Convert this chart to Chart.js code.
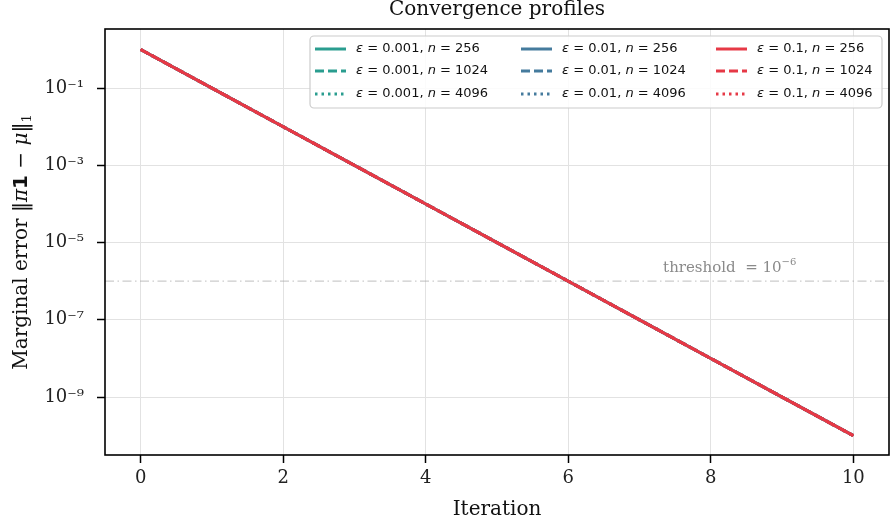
<!DOCTYPE html>
<html>
<head>
<meta charset="utf-8">
<script src="https://cdn.jsdelivr.net/npm/chart.js@4.4.1/dist/chart.umd.min.js"></script>
<style>
  html, body { margin: 0; padding: 0; background: #fff; }
  #wrap { width: 891px; height: 529px; }
</style>
</head>
<body>
<div id="wrap"><canvas id="chart" width="891" height="529"></canvas></div>
<script>
// Data
const iterations = [0, 1, 2, 3, 4, 5, 6, 7, 8, 9, 10];
const errEps0001 = [1, 1e-1, 1e-2, 1e-3, 1e-4, 1e-5, 1e-6, 1e-7, 1e-8, 1e-9, 1e-10];
const errEps001 = [1, 1e-1, 1e-2, 1e-3, 1e-4, 1e-5, 1e-6, 1e-7, 1e-8, 1e-9, 1e-10];
const errEps01 = [1, 1e-1, 1e-2, 1e-3, 1e-4, 1e-5, 1e-6, 1e-7, 1e-8, 1e-9, 1e-10];

const epsLabels = ['0.001', '0.01', '0.1'];
const nLabels = ['256', '1024', '4096'];
const seriesColors = ['#2a9d8f', '#457b9d', '#e63946'];
const dashStyles = [[], [9, 4], [2.5, 4]];

const xTickValues = [0, 2, 4, 6, 8, 10];
const yTickValues = [1e-9, 1e-7, 1e-5, 1e-3, 1e-1];
const yTickLabels = ['10\u207B\u2079', '10\u207B\u2077', '10\u207B\u2075', '10\u207B\u00B3', '10\u207B\u00B9'];
const thresholdValue = 1e-6;

const SERIF = '"DejaVu Serif", serif';
const SANS = '"DejaVu Sans", sans-serif';

// One series per (eps, n); red drawn last so it sits on top
const errByEps = [errEps0001, errEps001, errEps01];
const datasets = [];
epsLabels.forEach((eps, i) => {
    nLabels.forEach((n, j) => {
        datasets.push({
            label: `ε = ${eps}, n = ${n}`,
            data: iterations.map((x, k) => ({ x: x, y: errByEps[i][k] })),
            borderColor: seriesColors[i],
            borderWidth: 3,
            borderDash: dashStyles[j],
            pointRadius: 0,
            tension: 0,
            fill: false,
            order: 20 - (i * 3 + j)
        });
    });
});

// Threshold line spanning the whole x range
datasets.push({
    label: 'threshold',
    data: [{ x: -0.5, y: thresholdValue }, { x: 10.5, y: thresholdValue }],
    borderColor: 'rgba(160,160,160,0.55)',
    borderWidth: 1.3,
    borderDash: [9, 3.5, 1.5, 3.5],
    pointRadius: 0,
    order: 30
});

// Draw a run of text pieces with different fonts
function drawRuns(ctx, runs, x, y, align) {
    let total = 0;
    runs.forEach(r => { ctx.font = r.font; total += ctx.measureText(r.text).width; });
    let cx = align === 'center' ? x - total / 2 : (align === 'right' ? x - total : x);
    ctx.textAlign = 'left';
    runs.forEach(r => {
        ctx.font = r.font;
        ctx.fillText(r.text, cx, y + (r.dy || 0));
        cx += ctx.measureText(r.text).width;
    });
}

const decorPlugin = {
    id: 'decor',
    afterDraw(chart) {
        const ctx = chart.ctx;
        const a = chart.chartArea;
        const xs = chart.scales.x, ys = chart.scales.y;
        ctx.save();

        // frame
        ctx.strokeStyle = '#000';
        ctx.lineWidth = 1.6;
        ctx.strokeRect(a.left, a.top, a.right - a.left, a.bottom - a.top);

        // title
        ctx.fillStyle = '#111';
        ctx.textBaseline = 'alphabetic';
        ctx.font = `20px ${SERIF}`;
        ctx.textAlign = 'center';
        ctx.fillText('Convergence profiles', (a.left + a.right) / 2, 15);

        // x title
        ctx.fillText('Iteration', (a.left + a.right) / 2, 515);

        // y title (rotated)
        ctx.save();
        ctx.translate(27, (a.top + a.bottom) / 2);
        ctx.rotate(-Math.PI / 2);
        drawRuns(ctx, [
            { text: 'Marginal error ', font: `20px ${SERIF}` },
            { text: '\u2016', font: `20px ${SERIF}` },
            { text: 'π', font: `italic 20px ${SERIF}` },
            { text: '1', font: `bold 20px ${SANS}` },
            { text: ' − ', font: `20px ${SERIF}` },
            { text: 'μ', font: `italic 20px ${SERIF}` },
            { text: '\u2016', font: `20px ${SERIF}` },
            { text: '1', font: `13px ${SERIF}`, dy: 4 }
        ], 0, 0, 'center');
        ctx.restore();

        // threshold annotation
        ctx.fillStyle = '#8a8a8a';
        const ty = ys.getPixelForValue(thresholdValue) - 9;
        drawRuns(ctx, [
            { text: 'threshold  = 10', font: `15px ${SERIF}` },
            { text: '\u22126', font: `10px ${SERIF}`, dy: -7 }
        ], xs.getPixelForValue(9.2), ty, 'right');

        // legend box
        const bx = 310, by = 36, bw = 572, bh = 72, r = 4;
        ctx.beginPath();
        ctx.moveTo(bx + r, by);
        ctx.arcTo(bx + bw, by, bx + bw, by + bh, r);
        ctx.arcTo(bx + bw, by + bh, bx, by + bh, r);
        ctx.arcTo(bx, by + bh, bx, by, r);
        ctx.arcTo(bx, by, bx + bw, by, r);
        ctx.closePath();
        ctx.fillStyle = 'rgba(255,255,255,0.85)';
        ctx.fill();
        ctx.strokeStyle = '#cccccc';
        ctx.lineWidth = 1.2;
        ctx.stroke();

        const colX = [315, 521, 716];
        const rowY = [49, 71, 94];
        ctx.textBaseline = 'middle';
        epsLabels.forEach((eps, i) => {
            nLabels.forEach((n, j) => {
                const x0 = colX[i], y0 = rowY[j];
                ctx.strokeStyle = seriesColors[i];
                ctx.lineWidth = 3;
                ctx.setLineDash(dashStyles[j]);
                ctx.beginPath();
                ctx.moveTo(x0, y0);
                ctx.lineTo(x0 + 31, y0);
                ctx.stroke();
                ctx.setLineDash([]);
                ctx.fillStyle = '#111';
                drawRuns(ctx, [
                    { text: 'ε', font: `italic 13px ${SANS}` },
                    { text: ` = ${eps}, `, font: `13px ${SANS}` },
                    { text: 'n', font: `italic 13px ${SANS}` },
                    { text: ` = ${n}`, font: `13px ${SANS}` }
                ], x0 + 41, y0, 'left');
            });
        });
        ctx.restore();
    }
};

new Chart(document.getElementById('chart'), {
    type: 'line',
    data: { datasets: datasets },
    options: {
        responsive: false,
        animation: false,
        devicePixelRatio: 1,
        layout: { padding: { top: 29, right: 2, left: 0, bottom: 0 } },
        plugins: {
            legend: { display: false },
            tooltip: { enabled: false },
            title: { display: false }
        },
        scales: {
            x: {
                type: 'linear',
                min: -0.5,
                max: 10.5,
                afterBuildTicks: s => { s.ticks = xTickValues.map(v => ({ value: v })); },
                afterFit: s => { s.height = 74; },
                ticks: { font: { family: SERIF, size: 18 }, color: '#222', padding: 5, maxRotation: 0 },
                grid: { color: '#e2e2e2', lineWidth: 1, tickColor: '#000', tickLength: 8, tickWidth: 1.5 },
                border: { display: false }
            },
            y: {
                type: 'logarithmic',
                min: Math.pow(10, -10.5),
                max: Math.pow(10, 0.53),
                afterBuildTicks: s => { s.ticks = yTickValues.map(v => ({ value: v })); },
                afterFit: s => { s.width = 105; },
                ticks: {
                    font: { family: SERIF, size: 18 },
                    color: '#222',
                    padding: 13,
                    callback: v => yTickLabels[yTickValues.indexOf(v)]
                },
                grid: { color: '#e2e2e2', lineWidth: 1, tickColor: '#000', tickLength: 8, tickWidth: 1.5 },
                border: { display: false }
            }
        }
    },
    plugins: [decorPlugin]
});
</script>
</body>
</html>
